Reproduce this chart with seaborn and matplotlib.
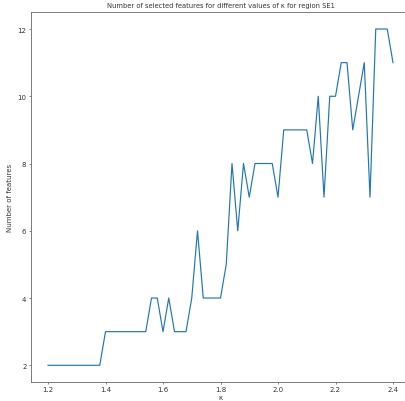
import matplotlib
matplotlib.use("Agg")
import matplotlib.pyplot as plt
import seaborn as sns

# kappa values (step 0.02) and number of selected features
kappa = [1.20, 1.22, 1.24, 1.26, 1.28, 1.30, 1.32, 1.34, 1.36, 1.38,
         1.40, 1.42, 1.44, 1.46, 1.48, 1.50, 1.52, 1.54, 1.56, 1.58,
         1.60, 1.62, 1.64, 1.66, 1.68, 1.70, 1.72, 1.74, 1.76, 1.78,
         1.80, 1.82, 1.84, 1.86, 1.88, 1.90, 1.92, 1.94, 1.96, 1.98,
         2.00, 2.02, 2.04, 2.06, 2.08, 2.10, 2.12, 2.14, 2.16, 2.18,
         2.20, 2.22, 2.24, 2.26, 2.28, 2.30, 2.32, 2.34, 2.36, 2.38,
         2.40]
n_features = [2, 2, 2, 2, 2, 2, 2, 2, 2, 2,
              3, 3, 3, 3, 3, 3, 3, 3, 4, 4,
              3, 4, 3, 3, 3, 4, 6, 4, 4, 4,
              4, 5, 8, 6, 8, 7, 8, 8, 8, 8,
              7, 9, 9, 9, 9, 9, 8, 10, 7, 10,
              10, 11, 11, 9, 10, 11, 7, 12, 12, 12,
              11]

plt.rcParams.update({
    "font.size": 5.0,
    "text.color": "#333333",
    "axes.labelcolor": "#333333",
    "xtick.color": "#555555",
    "ytick.color": "#555555",
    "xtick.labelcolor": "#333333",
    "ytick.labelcolor": "#333333",
    "axes.edgecolor": "#666666",
    "axes.linewidth": 0.6,
    "xtick.major.width": 0.5,
    "ytick.major.width": 0.5,
    "xtick.major.size": 1.6,
    "ytick.major.size": 1.6,
    "xtick.major.pad": 1.5,
    "ytick.major.pad": 1.5,
})

fig = plt.figure(figsize=(4.06, 4.02), dpi=100)
# axes runs a little past the right edge, like the cropped original
ax = fig.add_axes([30.75 / 406, 18.9 / 402, 379.5 / 406, 369.9 / 402])
sns.lineplot(x=kappa, y=n_features, ax=ax, color="#1f77b4", linewidth=0.85)

ax.set_xticks([1.2, 1.4, 1.6, 1.8, 2.0, 2.2, 2.4])
ax.set_yticks([2, 4, 6, 8, 10, 12])
ax.set_title("Number of selected features for different values of κ for region SE1",
             fontsize=4.9, pad=3.5)
ax.set_xlabel("κ", labelpad=1)
ax.set_ylabel("Number of features", labelpad=3)

fig.savefig("out.png", dpi=100)
